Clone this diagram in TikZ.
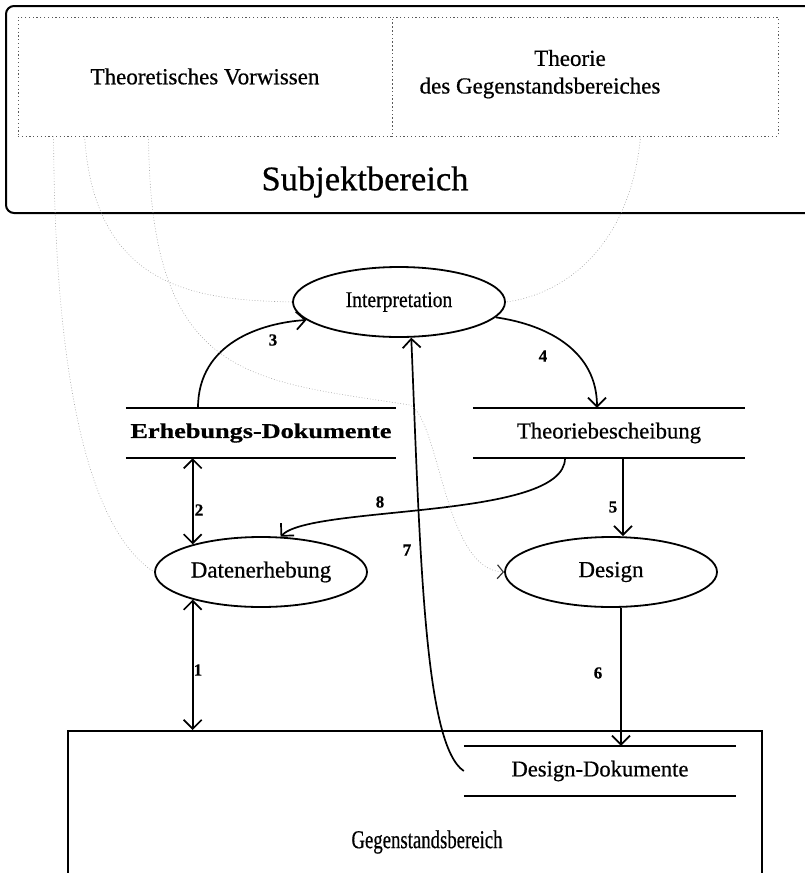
\documentclass[tikz,border=0pt]{standalone}
\usepackage{fontspec}
\setmainfont{Liberation Serif}[FakeBold=0.6]
\usetikzlibrary{arrows.meta, shapes.geometric}

\newcommand{\sz}[1]{\fontsize{#1}{#1}\selectfont}

\begin{document}
\begin{tikzpicture}[x=1pt, y=-1pt,
    >={Straight Barb[length=9pt,width=18pt]},
    proc/.style={draw, ellipse, line width=1.8pt, minimum width=212pt, minimum height=70pt, inner sep=0pt},
    store/.style={minimum width=272pt, minimum height=50pt, inner sep=0pt},
    dotbox/.style={draw=black!65, dash pattern=on 1.2pt off 2.6pt, line width=0.8pt, inner sep=0pt},
    flow/.style={line width=1.7pt},
    hint/.style={draw=black!35, dash pattern=on 0.8pt off 2pt, line width=0.6pt},
    nr/.style={font=\sz{17}\bfseries, inner sep=0pt}]

    \useasboundingbox (0,0) rectangle (804,873);

    % Subjektbereich oben
    \node[draw, rounded corners=8pt, line width=2pt, minimum width=830pt, minimum height=207pt, anchor=north west] (subj) at (5,5) {};
    \node[dotbox, minimum width=374pt, minimum height=119pt, font=\sz{23}] (vorw) at (205,76.5) {Theoretisches Vorwissen};
    \node[dotbox, minimum width=386pt, minimum height=119pt] (theor) at (585,76.5) {};
    \node[font=\sz{23}] (theor1) at (570,58) {Theorie};
    \node[font=\sz{23}] (theor2) at (540,88) {des Gegenstandsbereiches};
    \node[font=\sz{34.5}] (subjlbl) at (365,182) {Subjektbereich};

    % Prozesse
    \node[proc] (interp) at (399,302) {\scalebox{0.87}[1]{\sz{22.5}Interpretation}};
    \node[proc] (datenerh) at (261,572) {\sz{23}Datenerhebung};
    \node[proc] (design) at (611,572) {\sz{23}Design};

    % Speicher
    \node[store, minimum width=270pt] (erhebdok) at (261,433) {\scalebox{1.25}[1]{\sz{21}\bfseries Erhebungs-Dokumente}};
    \node[store] (theobesch) at (609,433) {\sz{22.7}Theoriebescheibung};
    \node[store] (designdok) at (600,771) {\sz{22.6}Design-Dokumente};
    \foreach \n in {erhebdok, theobesch, designdok}
        \draw[line width=1.8pt] (\n.north west) -- (\n.north east) (\n.south west) -- (\n.south east);

    % Gegenstandsbereich unten
    \node[draw, line width=1.8pt, minimum width=694pt, minimum height=180pt, anchor=north west] (gegen) at (67,730) {};
    \node (gegenlbl) at (427,842) {\scalebox{0.73}[1]{\sz{25.7}Gegenstandsbereich}};

    % Flüsse
    \draw[flow, <->] (datenerh.202) -- (datenerh.202 |- gegen.north);
    \draw[flow, <->] (datenerh.158 |- erhebdok.south) -- (datenerh.158);
    \draw[flow, ->] ([xshift=-63pt]erhebdok.north) .. controls +(0,-65) and +(-45,3) .. (interp.191);
    \draw[flow, ->] (interp.351) .. controls +(55,8) and +(0,-55) .. ([xshift=-12pt]theobesch.north);
    \draw[flow, ->] ([xshift=14pt]theobesch.south) -- ([xshift=14pt]theobesch.south |- design.north);
    \draw[flow, ->] ([xshift=10pt]design.south) -- ([xshift=10pt]design.south |- designdok.north);
    \draw[flow, ->] (designdok.west) .. controls +(-39,-26) and +(9,223) .. (interp.289);
    \draw[flow, ->] ([xshift=-44pt]theobesch.south) .. controls +(0,62) and +(30,-32) .. (datenerh.61);

    \node[nr] (n1) at (198,670) {1};
    \node[nr] (n2) at (199,510) {2};
    \node[nr] (n3) at (273,340) {3};
    \node[nr] (n4) at (543,356) {4};
    \node[nr] (n5) at (613,507) {5};
    \node[nr] (n6) at (598,673) {6};
    \node[nr] (n7) at (407,550) {7};
    \node[nr] (n8) at (380,502) {8};

    % Bezuege zum Vorwissen / zur Theorie
    \coordinate (va) at ([xshift=36pt]vorw.south west);
    \coordinate (vb) at ([xshift=67pt]vorw.south west);
    \coordinate (vc) at ([xshift=131pt]vorw.south west);
    \coordinate (td) at ([xshift=249pt]theor.south west);
    \coordinate (hbend) at (410,405);
    \draw[hint] (va) .. controls +(1,244) and +(-65,-42) .. (datenerh.west);
    \draw[hint] (vb) .. controls +(10,154) and +(-93,-2) .. (interp.west);
    \draw[hint, -{Straight Barb[length=6pt,width=14pt,color=black!80,line width=1.2pt]}]
        (vc) .. controls +(1,244) and +(-160,-25) .. (hbend)
        .. controls +(30,15) and +(-60,-2) .. (design.west);
    \draw[hint] (td) .. controls +(-11,114) and +(55,-7) .. (interp.east);
\end{tikzpicture}
\end{document}
